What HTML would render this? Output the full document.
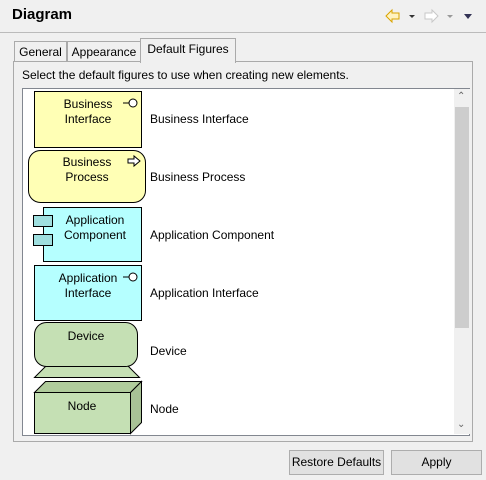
<!DOCTYPE html><html><head><style>
body{margin:0;width:486px;height:480px;background:#f0f0f0;font-family:"Liberation Sans",sans-serif;font-size:12px;color:#000;position:relative;overflow:hidden}
.a{position:absolute}
.lbl{position:absolute;left:150px}
</style></head><body>
<div class="a" style="left:12px;top:6px;font-size:15px;font-weight:bold">Diagram</div>
<div class="a" style="left:0;top:32px;width:486px;height:1px;background:#bbb"></div>
<svg class="a" style="left:384px;top:8px" width="100" height="16">
<path d="M2,8 L8,2 L8,5 L15,5 L15,11 L8,11 L8,14 Z" fill="#fff3c0" stroke="#d9a300"/>
<path d="M25,7 L31,7 L28,10Z" fill="#333"/>
<path d="M54,8 L48,2 L48,5 L41,5 L41,11 L48,11 L48,14 Z" fill="#fff" stroke="#c8c8c8"/>
<path d="M63,7 L69,7 L66,10Z" fill="#999"/>
<path d="M80,6 L88,6 L84,11Z" fill="#333355"/>
</svg>
<!-- tabs -->
<div class="a" style="left:14px;top:41px;width:51px;height:20px;border:1px solid #aaa;border-bottom:none;background:#f0f0f0;text-align:center;line-height:21px">General</div>
<div class="a" style="left:67px;top:41px;width:72px;height:20px;border:1px solid #aaa;border-bottom:none;background:#f0f0f0;text-align:center;line-height:21px">Appearance</div>
<div class="a" style="left:13px;top:61px;width:458px;height:379px;border:1px solid #aaa;background:#f0f0f0"></div>
<div class="a" style="left:140px;top:38px;width:94px;height:24px;border:1px solid #aaa;border-bottom:none;background:#f0f0f0;text-align:center;line-height:21px">Default Figures</div>
<div class="a" style="left:22px;top:68px">Select the default figures to use when creating new elements.</div>
<div class="a" style="left:22px;top:88px;width:446px;height:346px;border:1px solid #828790;background:#fff"></div>
<div class="a" style="left:454px;top:89px;width:16px;height:345px;background:#f0f0f0"></div>
<div class="a" style="left:455px;top:107px;width:14px;height:221px;background:#cdcdcd"></div>
<div class="a" style="left:457px;top:91px;font-size:10px;color:#666">&#8963;</div>
<div class="a" style="left:457px;top:419px;font-size:10px;color:#666">&#8964;</div>
<svg class="a" style="left:0;top:0" width="486" height="480">
<rect x="34.5" y="91.5" width="107" height="56" fill="#ffffb5" stroke="#000"/>
<line x1="123" y1="103" x2="129" y2="103" stroke="#000"/><circle cx="133" cy="103" r="4" fill="#fff" stroke="#000"/>
<rect x="28.5" y="150.5" width="117" height="52" rx="12" fill="#ffffb5" stroke="#000"/>
<path d="M128,159 L134,159 L134,156 L140,161 L134,166 L134,163 L128,163Z" fill="#fff" stroke="#000"/>
<rect x="43.5" y="207.5" width="98" height="54" fill="#b5ffff" stroke="#000"/>
<rect x="33.5" y="215.5" width="19" height="11" fill="#9fdfdf" stroke="#000"/>
<rect x="33.5" y="234.5" width="19" height="11" fill="#9fdfdf" stroke="#000"/>
<rect x="34.5" y="265.5" width="107" height="55" fill="#b5ffff" stroke="#000"/>
<line x1="123" y1="277" x2="129" y2="277" stroke="#000"/><circle cx="133" cy="277" r="4" fill="#fff" stroke="#000"/>
<path d="M34.5,377.5 L46,366 L128,366 L139.5,377.5Z" fill="#c5e0b4" stroke="#000"/>
<rect x="34.5" y="322.5" width="103" height="44" rx="12" fill="#c5e0b4" stroke="#000"/>
<path d="M34.5,392.5 L45.5,381.5 L141.5,381.5 L130.5,392.5Z" fill="#b0cc9c" stroke="#000"/>
<path d="M130.5,392.5 L141.5,381.5 L141.5,422.5 L130.5,433.5Z" fill="#a8c296" stroke="#000"/>
<rect x="34.5" y="392.5" width="96" height="41" fill="#c5e0b4" stroke="#000"/>
</svg>
<div class="a" style="left:34px;top:97px;width:108px;text-align:center;line-height:15px">Business<br>Interface</div>
<div class="a" style="left:28px;top:155px;width:118px;text-align:center;line-height:15px">Business<br>Process</div>
<div class="a" style="left:44px;top:213px;width:102px;text-align:center;line-height:15px">Application<br>Component</div>
<div class="a" style="left:38px;top:271px;width:100px;text-align:center;line-height:15px">Application<br>Interface</div>
<div class="a" style="left:34px;top:329px;width:104px;text-align:center">Device</div>
<div class="a" style="left:34px;top:399px;width:96px;text-align:center">Node</div>
<div class="lbl" style="top:112px">Business Interface</div>
<div class="lbl" style="top:170px">Business Process</div>
<div class="lbl" style="top:228px">Application Component</div>
<div class="lbl" style="top:286px">Application Interface</div>
<div class="lbl" style="top:344px">Device</div>
<div class="lbl" style="top:402px">Node</div>
<div class="a" style="left:289px;top:450px;width:93px;height:23px;border:1px solid #adadad;background:#e1e1e1;text-align:center;line-height:23px">Restore Defaults</div>
<div class="a" style="left:391px;top:450px;width:89px;height:23px;border:1px solid #adadad;background:#e1e1e1;text-align:center;line-height:23px">Apply</div>
</body></html>
